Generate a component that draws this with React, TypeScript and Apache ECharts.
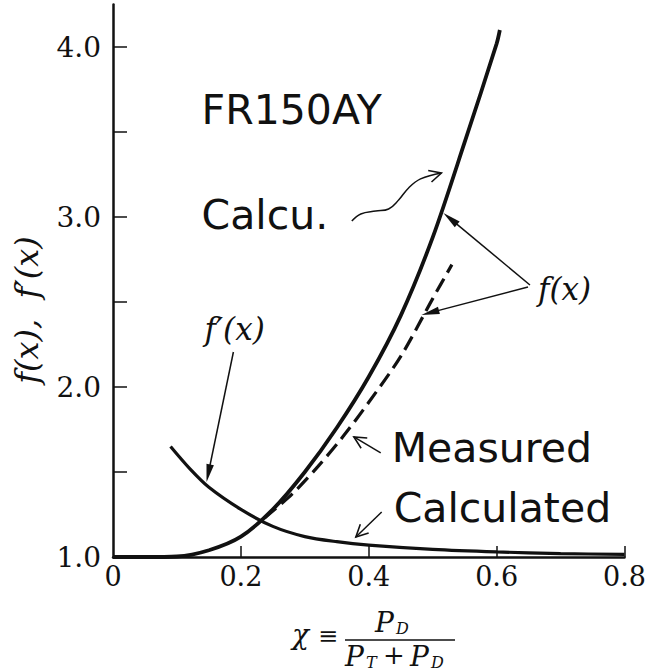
import React, { useEffect, useRef } from "react";
import * as echarts from "echarts";

// ---- data ----
const calcX = [0, 0.05, 0.1, 0.15, 0.2, 0.25, 0.3, 0.35, 0.4, 0.45, 0.5, 0.55, 0.6, 0.605];
const calcY = [1.0, 1.0, 1.003, 1.04, 1.12, 1.28, 1.5, 1.76, 2.06, 2.42, 2.88, 3.44, 4.02, 4.1];

const measX = [0.237, 0.28, 0.32, 0.36, 0.4, 0.45, 0.5, 0.53];
const measY = [1.23, 1.37, 1.53, 1.71, 1.91, 2.18, 2.52, 2.72];

const primeX = [0.09, 0.12, 0.15, 0.2, 0.25, 0.3, 0.35, 0.4, 0.5, 0.6, 0.7, 0.8];
const primeY = [1.65, 1.52, 1.41, 1.28, 1.18, 1.12, 1.09, 1.07, 1.045, 1.03, 1.02, 1.015];

const xLabelValues = [0, 0.2, 0.4, 0.6, 0.8];
const xTickValues = [0.2, 0.4, 0.6, 0.8];
const yLabelValues = [1, 2, 3, 4];
const yTickValues = [1.5, 2, 2.5, 3, 3.5, 4];

// annotation texts, anchored in data coordinates (left edge, vertical middle)
const noteTexts: { text: string; at: [number, number]; kind: string }[] = [
  { text: "FR150AY", at: [0.1385, 3.632], kind: "sans" },
  { text: "Calcu.", at: [0.1385, 3.012], kind: "sans" },
  { text: "Measured", at: [0.4358, 1.641], kind: "sans" },
  { text: "Calculated", at: [0.4389, 1.288], kind: "sans" },
  { text: "f(x)", at: [0.6646, 2.576], kind: "math" },
  { text: "f\u2032(x)", at: [0.1432, 2.341], kind: "math" },
];

// arrows, from -> to in data coordinates
const noteArrows: { from: [number, number]; to: [number, number]; head: string }[] = [
  { from: [0.1883, 2.206], to: [0.1463, 1.441], head: "filled" },
  { from: [0.6521, 2.6], to: [0.5167, 3.024], head: "filled" },
  { from: [0.649, 2.588], to: [0.4825, 2.424], head: "filled" },
  { from: [0.4187, 1.612], to: [0.3767, 1.706], head: "open" },
  { from: [0.4202, 1.265], to: [0.3798, 1.118], head: "open" },
];

// wavy pointer from "Calcu." to the calculated curve
const squiggle: [number, number][] = [
  [0.3735, 2.976],
  [0.3875, 3.018],
  [0.4109, 3.035],
  [0.431, 3.047],
  [0.4467, 3.1],
  [0.4623, 3.171],
  [0.481, 3.224],
  [0.5136, 3.259],
];

const INK = "#111";
const SANS = "'DejaVu Sans', sans-serif";
const SERIF = "'DejaVu Serif', serif";

function zip(xs: number[], ys: number[]) {
  return xs.map((x, i) => [x, ys[i]]);
}

export default function App() {
  const ref = useRef<HTMLDivElement>(null);

  useEffect(() => {
    document.body.style.margin = "0";
    const chart = echarts.init(ref.current!, null, { renderer: "svg" });

    const option: any = {
      animation: false,
      backgroundColor: "#fff",
      grid: { left: 113, right: 22, top: 4.5, bottom: 115 },
      xAxis: {
        type: "value",
        min: 0,
        max: 0.8,
        splitLine: { show: false },
        axisLine: { onZero: false, lineStyle: { color: INK, width: 2.5 } },
        axisTick: {
          inside: true,
          length: 11,
          customValues: xTickValues,
          lineStyle: { color: INK, width: 1.5 },
        },
        axisLabel: {
          customValues: xLabelValues,
          margin: 6,
          color: INK,
          fontFamily: SERIF,
          fontSize: 27,
          formatter: (v: number) => (v === 0 ? "0" : v.toFixed(1)),
        },
      },
      yAxis: {
        type: "value",
        min: 1,
        max: 4.25,
        splitLine: { show: false },
        axisLine: { onZero: false, lineStyle: { color: INK, width: 2.5 } },
        axisTick: {
          inside: true,
          length: 14,
          customValues: yTickValues,
          lineStyle: { color: INK, width: 1.5 },
        },
        axisLabel: {
          customValues: yLabelValues,
          margin: 12,
          color: INK,
          fontFamily: SERIF,
          fontSize: 28,
          formatter: (v: number) => v.toFixed(1),
        },
      },
      series: [
        {
          name: "Calculated f(x)",
          type: "line",
          data: zip(calcX, calcY),
          smooth: 0.3,
          showSymbol: false,
          lineStyle: { color: INK, width: 3.8 },
          z: 3,
        },
        {
          name: "Measured f(x)",
          type: "line",
          data: zip(measX, measY),
          smooth: 0.3,
          showSymbol: false,
          lineStyle: { color: INK, width: 3.2, type: [15, 7] },
          z: 3,
        },
        {
          name: "Calculated f'(x)",
          type: "line",
          data: zip(primeX, primeY),
          smooth: 0.3,
          showSymbol: false,
          lineStyle: { color: INK, width: 3.2 },
          z: 3,
        },
      ],
    };
    chart.setOption(option);

    const toPx = (p: [number, number]) =>
      chart.convertToPixel({ gridIndex: 0 }, p) as unknown as number[];

    const g: any[] = [];

    noteTexts.forEach((t) => {
      const [x, y] = toPx(t.at);
      g.push({
        type: "text",
        x,
        y,
        z: 10,
        style: {
          text: t.text,
          fill: INK,
          align: "left",
          verticalAlign: "middle",
          fontFamily: t.kind === "sans" ? SANS : SERIF,
          fontStyle: t.kind === "sans" ? "normal" : "italic",
          fontSize: t.kind === "sans" ? 41 : 31,
        },
      });
    });

    const headLines = (x2: number, y2: number, ux: number, uy: number, head: string) => {
      const px = -uy;
      const py = ux;
      if (head === "filled") {
        const hl = 18;
        const hw = 3.8;
        const bx = x2 - ux * hl;
        const by = y2 - uy * hl;
        g.push({
          type: "polygon",
          z: 10,
          shape: {
            points: [
              [x2, y2],
              [bx + px * hw, by + py * hw],
              [bx - px * hw, by - py * hw],
            ],
          },
          style: { fill: INK },
        });
      } else {
        const hl = 12;
        const hw = 6;
        const bx = x2 - ux * hl;
        const by = y2 - uy * hl;
        g.push({
          type: "polyline",
          z: 10,
          shape: {
            points: [
              [bx + px * hw, by + py * hw],
              [x2, y2],
              [bx - px * hw, by - py * hw],
            ],
          },
          style: { stroke: INK, lineWidth: 1.6, fill: "none" },
        });
      }
    };

    noteArrows.forEach((a) => {
      const [x1, y1] = toPx(a.from);
      const [x2, y2] = toPx(a.to);
      const dx = x2 - x1;
      const dy = y2 - y1;
      const L = Math.hypot(dx, dy);
      const ux = dx / L;
      const uy = dy / L;
      const stop = a.head === "filled" ? 10 : 0;
      g.push({
        type: "line",
        z: 10,
        shape: { x1, y1, x2: x2 - ux * stop, y2: y2 - uy * stop },
        style: { stroke: INK, lineWidth: 1.5 },
      });
      headLines(x2, y2, ux, uy, a.head);
    });

    const sq = squiggle.map((p) => toPx(p));
    g.push({
      type: "polyline",
      z: 10,
      shape: { points: sq, smooth: 0.4 },
      style: { stroke: INK, lineWidth: 1.5, fill: "none" },
    });
    {
      const a = sq[sq.length - 2];
      const b = sq[sq.length - 1];
      const L = Math.hypot(b[0] - a[0], b[1] - a[1]);
      headLines(b[0], b[1], (b[0] - a[0]) / L, (b[1] - a[1]) / L, "open");
    }

    // y axis title (rotated)
    g.push({
      type: "text",
      x: 27,
      y: 310,
      rotation: Math.PI / 2,
      style: {
        text: "f(x),  f\u2032(x)",
        fill: INK,
        align: "center",
        verticalAlign: "middle",
        fontFamily: SERIF,
        fontStyle: "italic",
        fontSize: 32,
      },
    });

    // x axis title: chi = P_D / (P_T + P_D)
    const mt = (text: string, x: number, y: number, size: number, italic = true) => ({
      type: "text",
      x,
      y,
      style: {
        text,
        fill: INK,
        align: "left",
        verticalAlign: "middle",
        fontFamily: SERIF,
        fontStyle: italic ? "italic" : "normal",
        fontSize: size,
      },
    });
    g.push(mt("\u03C7", 292, 634, 28));
    g.push(mt("\u2261", 318, 636, 24, false));
    g.push({
      type: "line",
      shape: { x1: 345, y1: 640, x2: 455, y2: 640 },
      style: { stroke: INK, lineWidth: 1.3 },
    });
    g.push(mt("P", 375, 622, 28));
    g.push(mt("D", 396, 628, 16));
    g.push(mt("P", 345, 656, 28));
    g.push(mt("T", 366, 662, 16));
    g.push(mt("+", 383, 655, 26, false));
    g.push(mt("P", 410, 656, 28));
    g.push(mt("D", 431, 662, 16));

    chart.setOption({ graphic: g });

    return () => chart.dispose();
  }, []);

  return <div ref={ref} style={{ width: 649, height: 672 }} />;
}
